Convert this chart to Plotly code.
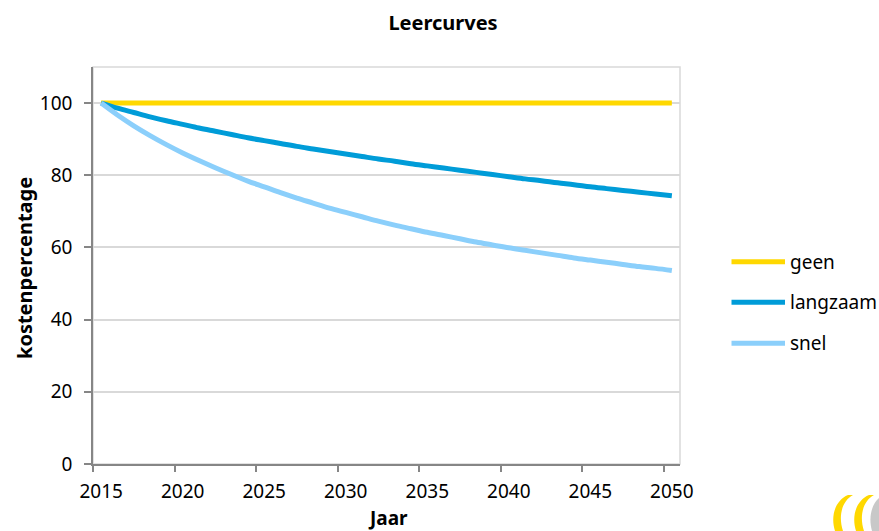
import plotly.graph_objects as go

# Years on the category axis
jaren = list(range(2015, 2051))

# Cost percentage per scenario
geen = [100.0] * 36
langzaam = [
    100.0, 98.6, 97.4, 96.2, 95.1, 94.1, 93.1, 92.2, 91.3, 90.4,
    89.6, 88.8, 88.0, 87.3, 86.6, 85.9, 85.2, 84.5, 83.9, 83.2,
    82.6, 82.0, 81.4, 80.8, 80.2, 79.6, 79.0, 78.5, 77.9, 77.4,
    76.8, 76.3, 75.8, 75.3, 74.8, 74.3,
]
snel = [
    100.0, 96.7, 93.7, 91.0, 88.5, 86.2, 84.1, 82.1, 80.2, 78.4,
    76.8, 75.2, 73.7, 72.3, 70.9, 69.7, 68.5, 67.3, 66.2, 65.2,
    64.2, 63.3, 62.4, 61.5, 60.7, 59.9, 59.2, 58.5, 57.8, 57.1,
    56.5, 55.9, 55.3, 54.7, 54.2, 53.6,
]

series_names = ["geen", "langzaam", "snel"]
series_values = [geen, langzaam, snel]
series_colors = ["#FFD800", "#009CD8", "#8BCFFB"]

x_labels = list(range(2015, 2051, 5))
y_ticks = [0, 20, 40, 60, 80, 100]

FONT = "Noto Sans"
W, H = 879, 531
M_L, M_R, M_T, M_B = 93, 199, 67, 67
PW = W - M_L - M_R
PH = H - M_T - M_B


def px_to_paper(px, py):
    return (px - M_L) / PW, (H - M_B - py) / PH


fig = go.Figure()
for name, vals, col in zip(series_names, series_values, series_colors):
    fig.add_trace(go.Scatter(
        x=jaren, y=vals, mode="lines", name=name,
        line=dict(color=col, width=5, shape="spline", smoothing=1.0),
        showlegend=False,
    ))

# light frame on top/right of the plotting area
fig.add_shape(type="rect", xref="paper", yref="paper", x0=0, x1=1, y0=0, y1=1,
              line=dict(color="#D9D9D9", width=1.5), layer="below")

# legend drawn beside the plot
legend_py = [261.7, 302.3, 343.3]
for name, col, py in zip(series_names, series_colors, legend_py):
    x0, yp = px_to_paper(731.5, py)
    x1, _ = px_to_paper(785, py)
    xt, _ = px_to_paper(788, py)
    fig.add_shape(type="line", xref="paper", yref="paper",
                  x0=x0, x1=x1, y0=yp, y1=yp, line=dict(color=col, width=5))
    fig.add_annotation(xref="paper", yref="paper", x=xt, y=yp,
                       text=name, showarrow=False, xanchor="left", yanchor="middle",
                       font=dict(family=FONT, size=19, color="#000000"))

# axis titles
ax_x, ax_y = px_to_paper(388, 518)
fig.add_annotation(xref="paper", yref="paper", x=ax_x, y=ax_y, text="<b>Jaar</b>",
                   showarrow=False, xanchor="center", yanchor="middle",
                   font=dict(family=FONT, size=19, color="#000000"))
ay_x, ay_y = px_to_paper(24, 268)
fig.add_annotation(xref="paper", yref="paper", x=ay_x, y=ay_y,
                   text="<b>kostenpercentage</b>", textangle=-90,
                   showarrow=False, xanchor="center", yanchor="middle",
                   font=dict(family=FONT, size=20, color="#000000"))

# corner logo
logo_paths = [
    ("M 835 531 C 830 515 836 500 848 495 L 853 495 C 842 501 838 516 843 531 Z", "#FFD800"),
    ("M 856 531 C 851 515 857 500 869 495 L 874 495 C 863 501 859 516 864 531 Z", "#FFD800"),
    ("M 872 531 C 868 517 872 504 879 498 L 879 531 Z", "#C8C8C8"),
]
for d, col in logo_paths:
    toks = d.split()
    out = []
    i = 0
    while i < len(toks):
        t = toks[i]
        if t.isalpha():
            out.append(t)
            i += 1
        else:
            qx, qy = px_to_paper(float(toks[i]), float(toks[i + 1]))
            out.append(f"{qx:.5f},{qy:.5f}")
            i += 2
    fig.add_shape(type="path", xref="paper", yref="paper", path=" ".join(out),
                  fillcolor=col, line=dict(width=0))

fig.update_layout(
    width=W, height=H,
    margin=dict(l=M_L, r=M_R, t=M_T, b=M_B, autoexpand=False),
    paper_bgcolor="white", plot_bgcolor="white",
    font=dict(family=FONT, size=19, color="#000000"),
    title=dict(text="<b>Leercurves</b>", x=0.504, xref="container",
               y=1 - 23 / H, yref="container", yanchor="middle", xanchor="center",
               font=dict(family=FONT, size=20, color="#000000")),
    showlegend=False,
)

fig.update_xaxes(
    range=[2014.5, 2050.5], automargin=False,
    tickmode="array", tickvals=x_labels, ticktext=[str(v) for v in x_labels],
    ticks="", showgrid=False, zeroline=False,
    showline=True, linecolor="#868686", linewidth=1.5,
    ticklabelstandoff=9,
    minor=dict(tickmode="array", tickvals=[v - 0.5 for v in x_labels],
               ticks="outside", ticklen=6, tickcolor="#868686", tickwidth=1.5,
               showgrid=False),
)
fig.update_yaxes(
    range=[0, 110], automargin=False,
    tickmode="array", tickvals=y_ticks,
    ticks="outside", ticklen=7, tickcolor="#868686", tickwidth=1.5,
    showgrid=True, gridcolor="#D9D9D9", gridwidth=1.5,
    zeroline=False, showline=True, linecolor="#868686", linewidth=1.5,
    ticklabelstandoff=8,
)

fig.write_html("out.html")
